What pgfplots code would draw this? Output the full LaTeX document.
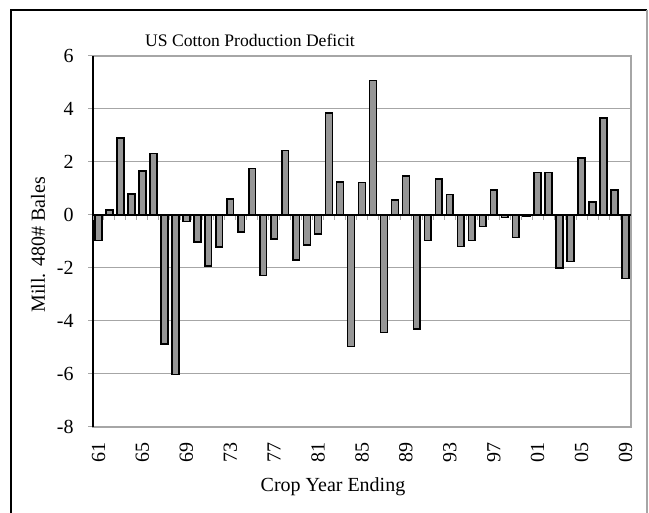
\documentclass[border=0pt]{standalone}
\usepackage{fontspec}
\setmainfont{Liberation Serif}
\usepackage{pgfplots}
\pgfplotsset{compat=1.18}

% crop years 1961..2009, index 0..48
\pgfplotstableread{
idx val
0 -0.97
1 0.19
2 2.91
3 0.80
4 1.67
5 2.32
6 -4.87
7 -6.02
8 -0.25
9 -1.01
10 -1.93
11 -1.20
12 0.61
13 -0.65
14 1.75
15 -2.29
16 -0.90
17 2.43
18 -1.71
19 -1.14
20 -0.72
21 3.84
22 1.24
23 -4.97
24 1.22
25 5.08
26 -4.44
27 0.56
28 1.48
29 -4.30
30 -0.97
31 1.35
32 0.77
33 -1.19
34 -0.97
35 -0.44
36 0.95
37 -0.09
38 -0.85
39 -0.03
40 1.61
41 1.61
42 -2.00
43 -1.75
44 2.14
45 0.48
46 3.66
47 0.95
48 -2.39
}\deficit

\definecolor{barfill}{HTML}{969696}
\definecolor{gridgray}{HTML}{A6A6A6}

\begin{document}
\begin{tikzpicture}
\useasboundingbox (0,0) rectangle (324.5pt,256.5pt);
% outer frame
\draw[black, line width=1pt] (5.5pt,0) -- (5.5pt,251.5pt) -- (323.5pt,251.5pt);
\draw[gridgray, line width=0.6pt] (323.5pt,251.5pt) -- (323.5pt,0);

\begin{axis}[
    at={(46.5pt,43pt)}, anchor=south west,
    scale only axis,
    width=269pt, height=185.5pt,
    xmin=-0.5, xmax=48.5,
    ymin=-8, ymax=6,
    ytick={-8,-6,...,6},
    xtick={0,4,...,48},
    xticklabels={61,65,69,73,77,81,85,89,93,97,01,05,09},
    x tick label style={rotate=90, anchor=east, inner sep=0pt, xshift=-5pt},
    y tick label style={anchor=east, inner sep=0pt},
    yticklabel shift=7pt,
    xtick style={draw=none},
    ytick pos=left,
    tick align=outside,
    major tick length=2.5pt,
    ytick style={gridgray, line width=0.5pt},
    ymajorgrids,
    major grid style={gridgray, line width=0.5pt},
    axis line style={gridgray, line width=0.6pt},
    ticklabel style={font=\fontsize{10}{11}\selectfont},
    /pgf/number format/assume math mode=true,
    ybar, bar width=0.62,
    clip=false,
]
\addplot[fill=barfill, draw=black, line width=0.8pt] table[x=idx, y=val] {\deficit};
\draw[black, line width=0.6pt] (rel axis cs:0,0) -- (rel axis cs:0,1);
\end{axis}

% zero line with category boundary ticks
\begin{axis}[
    at={(46.5pt,43pt)}, anchor=south west,
    scale only axis,
    width=269pt, height=185.5pt,
    xmin=-0.5, xmax=48.5,
    ymin=-8, ymax=6,
    axis x line=middle,
    axis y line=none,
    x axis line style={-, black, line width=0.9pt},
    xtick={-0.5,0.5,...,48.5},
    xticklabels={},
    xtick style={gridgray, line width=0.5pt},
    tick align=outside,
    major tick length=2.5pt,
]
\end{axis}

\node[font=\fontsize{8.8}{10}\selectfont] at (125pt,236.5pt) {US Cotton Production Deficit};
\node[font=\fontsize{10}{11}\selectfont] at (166.5pt,13pt) {Crop Year Ending};
\node[font=\fontsize{10}{11}\selectfont, rotate=90] at (19pt,134pt) {Mill. 480\# Bales};
\end{tikzpicture}
\end{document}
